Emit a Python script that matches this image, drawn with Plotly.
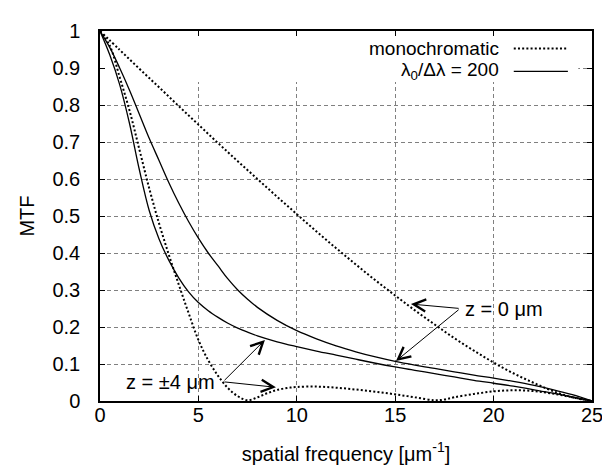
import plotly.graph_objects as go

# ---- data ----
freq_mono0 = list(range(0, 26))
mtf_mono0 = [1.0, 0.949, 0.898, 0.848, 0.797, 0.747, 0.697, 0.648, 0.600, 0.552,
             0.505, 0.458, 0.413, 0.369, 0.326, 0.285, 0.245, 0.207, 0.170, 0.136,
             0.104, 0.075, 0.050, 0.027, 0.010, 0.0]

freq_poly = [0, 0.5, 1, 1.5, 2, 2.5, 3, 3.5, 4, 4.5, 5, 5.5, 6, 6.5, 7, 7.5, 8,
             9, 10, 11, 12, 13, 14, 15, 16, 17, 18, 19, 20, 21, 22, 23, 24, 25]
mtf_poly0 = [1.0, 0.955, 0.9, 0.84, 0.775, 0.71, 0.65, 0.59, 0.535, 0.485, 0.44,
             0.4, 0.365, 0.33, 0.30, 0.275, 0.253, 0.218, 0.19, 0.168, 0.149, 0.133,
             0.119, 0.107, 0.097, 0.088, 0.079, 0.070, 0.062, 0.053, 0.043, 0.031,
             0.017, 0.0]
mtf_poly4 = [1.0, 0.935, 0.855, 0.75, 0.625, 0.515, 0.438, 0.38, 0.333, 0.295,
             0.266, 0.244, 0.226, 0.21, 0.197, 0.186, 0.176, 0.16, 0.147, 0.135,
             0.124, 0.113, 0.102, 0.092, 0.083, 0.074, 0.065, 0.056, 0.048, 0.04,
             0.031, 0.021, 0.011, 0.0]

freq_mono4 = [0, 0.5, 1, 1.5, 2, 2.5, 3, 3.5, 4, 4.5, 5, 5.5, 6, 6.5, 7, 7.5, 8,
              8.5, 9, 9.5, 10, 11, 12, 13, 14, 15, 16, 17, 17.5, 18, 19, 20, 21,
              22, 23, 24, 25]
mtf_mono4 = [1.0, 0.96, 0.875, 0.785, 0.68, 0.575, 0.48, 0.395, 0.315, 0.238, 0.165,
             0.11, 0.068, 0.035, 0.013, 0.002, 0.01, 0.021, 0.03, 0.035, 0.038,
             0.039, 0.036, 0.031, 0.025, 0.018, 0.01, 0.002, 0.004, 0.01, 0.019,
             0.026, 0.029, 0.027, 0.02, 0.01, 0.0]

legend_labels = ["monochromatic", "λ<sub>0</sub>/Δλ = 200"]
x_ticks = [0, 5, 10, 15, 20, 25]
y_ticks = [0, 0.1, 0.2, 0.3, 0.4, 0.5, 0.6, 0.7, 0.8, 0.9, 1]

FONT = "Liberation Sans, Arial, sans-serif"
FS = 20
FS_KEY = 19
dotted = dict(color="black", width=2, dash="2px,2.2px")
solid = dict(color="black", width=1.3)

fig = go.Figure()
fig.add_trace(go.Scatter(x=freq_mono0, y=mtf_mono0, mode="lines", line=dotted,
                         showlegend=False, line_shape="spline"))
fig.add_trace(go.Scatter(x=freq_mono4, y=mtf_mono4, mode="lines", line=dotted,
                         showlegend=False, line_shape="spline"))
fig.add_trace(go.Scatter(x=freq_poly, y=mtf_poly0, mode="lines", line=solid,
                         showlegend=False, line_shape="spline"))
fig.add_trace(go.Scatter(x=freq_poly, y=mtf_poly4, mode="lines", line=solid,
                         showlegend=False, line_shape="spline"))

axis_common = dict(
    showline=True, linecolor="black", linewidth=1.5, mirror="ticks",
    ticks="inside", ticklen=5, tickwidth=1, tickcolor="black",
    showgrid=True, gridcolor="#808080", gridwidth=1, griddash="4px,3px",
    zeroline=False, tickfont=dict(family=FONT, size=FS, color="black"),
)

fig.update_xaxes(range=[0, 25], tickvals=x_ticks,
                 title=dict(text="spatial frequency [μm<sup>-1</sup>]",
                            font=dict(family=FONT, size=FS, color="black"),
                            standoff=22),
                 ticklabelstandoff=-5,
                 **axis_common)
fig.update_yaxes(range=[0, 1], tickvals=y_ticks,
                 title=dict(text="MTF", font=dict(family=FONT, size=FS, color="black"),
                            standoff=12),
                 ticklabelstandoff=14,
                 **axis_common)

# blank area behind the key (grid hidden there, as in the reference)
fig.add_shape(type="rect", xref="x", yref="y", x0=0, x1=24.3, y0=0.862, y1=1,
              fillcolor="white", line=dict(width=0), layer="between")

# key (text first, sample line to its right)
key_y = [0.953, 0.891]
key_dash = ["2px,2.2px", "solid"]
key_w = [2, 1.3]
for lab, yy, dsh, w in zip(legend_labels, key_y, key_dash, key_w):
    fig.add_annotation(xref="paper", yref="paper", x=0.815, y=yy, text=lab,
                       showarrow=False, xanchor="right", yanchor="middle",
                       font=dict(family=FONT, size=FS_KEY, color="black"))
    fig.add_shape(type="line", xref="paper", yref="paper", x0=0.841, x1=0.951,
                  y0=yy, y1=yy, line=dict(color="black", width=w, dash=dsh))

# labels with arrows
fig.add_annotation(x=18.45, y=0.25, text="z = 0 μm", showarrow=False,
                   xanchor="left", yanchor="middle",
                   font=dict(family=FONT, size=FS, color="black"))
fig.add_annotation(x=5.95, y=0.052, text="z = ±4 μm", showarrow=False,
                   xanchor="right", yanchor="middle",
                   font=dict(family=FONT, size=FS, color="black"))
arrows = [((15.8, 0.262), (18.3, 0.25)), ((15.04, 0.108), (18.3, 0.25)),
          ((8.38, 0.165), (6.25, 0.052)), ((8.94, 0.037), (6.25, 0.052))]
for (hx, hy), (tx, ty) in arrows:
    fig.add_annotation(x=hx, y=hy, ax=tx, ay=ty, xref="x", yref="y",
                       axref="x", ayref="y", text="", showarrow=True,
                       arrowhead=5, arrowsize=2.4, arrowwidth=1, arrowcolor="black",
                       standoff=0, startstandoff=0)

fig.update_layout(width=610, height=471, margin=dict(l=92, r=26, t=12, b=78),
                  paper_bgcolor="white", plot_bgcolor="white",
                  font=dict(family=FONT, size=FS, color="black"))

fig.write_html("out.html")
